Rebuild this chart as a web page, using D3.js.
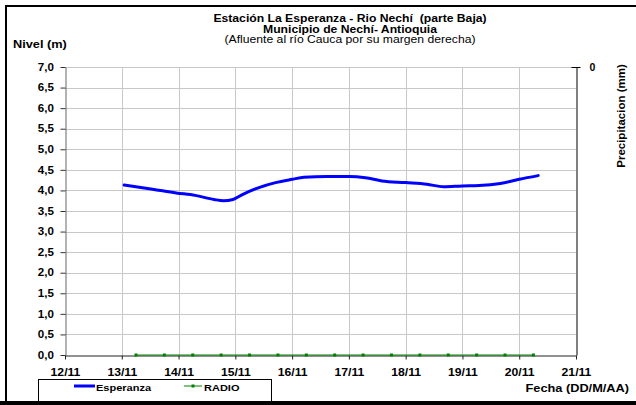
<!DOCTYPE html>
<html>
<head>
<meta charset="utf-8">
<script src="https://cdn.jsdelivr.net/npm/d3@7/dist/d3.min.js"></script>
<style>
  body { margin: 0; background: #fff; }
  svg { display: block; font-family: "Liberation Sans", Arial, sans-serif; }
</style>
</head>
<body>
<svg id="chart" width="636" height="405"></svg>
<script>
// Datos
var titleLines = ["Estación La Esperanza - Rio Nechí \u00a0(parte Baja)", "Municipio de Nechí- Antioquia", "(Afluente al río Cauca por su margen derecha)"];
var dayTicks = ["12/11", "13/11", "14/11", "15/11", "16/11", "17/11", "18/11", "19/11", "20/11", "21/11"];
var levelTicks = [0, 0.5, 1, 1.5, 2, 2.5, 3, 3.5, 4, 4.5, 5, 5.5, 6, 6.5, 7];

var esperanzaTimes = ["13/11 01:00", "13/11 13:00", "13/11 23:00", "14/11 07:00", "14/11 15:00", "14/11 19:00",
  "14/11 23:00", "15/11 03:00", "15/11 10:00", "15/11 17:00", "16/11 00:00", "16/11 05:00", "16/11 15:00",
  "17/11 00:00", "17/11 07:00", "17/11 14:00", "18/11 00:00", "18/11 09:00", "18/11 16:00", "19/11 00:00",
  "19/11 07:00", "19/11 16:00", "20/11 00:00", "20/11 08:00"];
var esperanzaLevels = [4.13, 4.03, 3.94, 3.88, 3.78, 3.75, 3.78, 3.90, 4.07, 4.19, 4.27, 4.32, 4.34,
  4.34, 4.31, 4.23, 4.19, 4.15, 4.09, 4.11, 4.12, 4.17, 4.27, 4.36];

var radioTimes = ["13/11 06:00", "13/11 18:00", "14/11 06:00", "14/11 18:00", "15/11 06:00", "15/11 18:00",
  "16/11 06:00", "16/11 18:00", "17/11 06:00", "17/11 18:00", "18/11 06:00", "18/11 18:00",
  "19/11 06:00", "19/11 18:00", "20/11 06:00"];
var radioValues = [0, 0, 0, 0, 0, 0, 0, 0, 0, 0, 0, 0, 0, 0, 0];

var svg = d3.select("#chart"),
    sx = 1.16,   // el grafico original esta estirado a lo ancho
    parse = d3.timeParse("%d/%m %H:%M"),
    parseDay = d3.timeParse("%d/%m");

var plotLeft = 65, plotRight = 576, plotTop = 67, plotBottom = 355;

var x = d3.scaleTime()
    .domain([parseDay(dayTicks[0]), parseDay(dayTicks[dayTicks.length - 1])])
    .range([plotLeft, plotRight]);
var y = d3.scaleLinear().domain([0, 7]).range([plotBottom, plotTop]);

function stretched(sel, px, py) {
  return sel.attr("transform", "translate(" + px + "," + py + ") scale(" + sx + ",1)");
}

// marco
svg.append("rect").attr("x", 6).attr("y", 6).attr("width", 640).attr("height", 396)
    .attr("fill", "#fff").attr("stroke", "#000").attr("stroke-width", 2);
svg.append("rect").attr("x", 0).attr("y", 401).attr("width", 636).attr("height", 4).attr("fill", "#000");

// titulos
titleLines.forEach(function(t, i) {
  stretched(svg.append("text"), 350, 22 + i * 10.7)
      .attr("text-anchor", "middle")
      .attr("font-size", 10.5)
      .attr("font-weight", i < 2 ? "bold" : "normal")
      .text(t);
});

stretched(svg.append("text"), 13, 48).attr("font-size", 11).attr("font-weight", "bold").text("Nivel (m)");
stretched(svg.append("text"), 629, 392).attr("text-anchor", "end").attr("font-size", 11)
    .attr("font-weight", "bold").text("Fecha (DD/M/AA)");
svg.append("text")
    .attr("transform", "translate(625,116) rotate(-90)")
    .attr("text-anchor", "middle").attr("font-size", 11.5).attr("font-weight", "bold")
    .text("Precipitacion (mm)");

// rejilla
svg.append("g").selectAll("line").data(levelTicks.slice(1)).enter().append("line")
    .attr("x1", plotLeft).attr("x2", plotRight)
    .attr("y1", function(d) { return Math.round(y(d)) + 0.5; })
    .attr("y2", function(d) { return Math.round(y(d)) + 0.5; })
    .attr("stroke", "#c8c8c8");
svg.append("g").selectAll("line").data(dayTicks.slice(1, -1)).enter().append("line")
    .attr("x1", function(d) { return Math.round(x(parseDay(d))) + 0.5; })
    .attr("x2", function(d) { return Math.round(x(parseDay(d))) + 0.5; })
    .attr("y1", plotTop).attr("y2", plotBottom)
    .attr("stroke", "#c8c8c8");

// ejes
var yAxis = svg.append("g").attr("transform", "translate(" + (plotLeft + 0.5) + ",0)")
    .call(d3.axisLeft(y).tickValues(levelTicks).tickSize(5).tickPadding(5).tickSizeOuter(0)
      .tickFormat(function(d) { return d3.format(".1f")(d).replace(".", ","); }));
yAxis.select(".domain").attr("stroke", "#666");
yAxis.selectAll(".tick line").attr("stroke", "#333");
yAxis.selectAll("text").attr("font-size", 10).attr("font-weight", "bold").attr("fill", "#000")
    .attr("font-family", "Liberation Sans, Arial, sans-serif")
    .attr("transform", "scale(" + sx + ",1)");

var xAxis = svg.append("g").attr("transform", "translate(0," + (plotBottom + 0.5) + ")")
    .call(d3.axisBottom(x).tickValues(dayTicks.map(parseDay)).tickSize(4).tickPadding(9)
      .tickFormat(d3.timeFormat("%d/%m")).tickSizeOuter(0));
xAxis.select(".domain").attr("stroke", "#222");
xAxis.selectAll(".tick line").attr("stroke", "#222");
xAxis.selectAll("text").attr("font-size", 10.5).attr("font-weight", "bold").attr("fill", "#000")
    .attr("font-family", "Liberation Sans, Arial, sans-serif")
    .attr("transform", "scale(" + sx + ",1)");

// eje derecho (precipitacion)
var y2 = d3.scaleLinear().domain([0, 1]).range([plotTop, plotBottom]);
var rAxis = svg.append("g").attr("transform", "translate(" + (plotRight + 0.5) + ",0)")
    .call(d3.axisRight(y2).tickValues([0]).tickSize(4).tickPadding(9).tickSizeOuter(0)
      .tickFormat(d3.format("d")));
rAxis.select(".domain").attr("stroke", "#000");
rAxis.select(".tick line").attr("x1", -5).attr("stroke", "#000");
rAxis.selectAll("text").attr("font-size", 10.5).attr("font-weight", "bold").attr("fill", "#000")
    .attr("font-family", "Liberation Sans, Arial, sans-serif");

// series
var esperanza = esperanzaTimes.map(function(t, i) { return { t: parse(t), v: esperanzaLevels[i] }; });
var radio = radioTimes.map(function(t, i) { return { t: parse(t), v: radioValues[i] }; });

var line = d3.line()
    .x(function(d) { return x(d.t); })
    .y(function(d) { return y(d.v); })
    .curve(d3.curveMonotoneX);

svg.append("path").datum(radio).attr("d", line)
    .attr("fill", "none").attr("stroke", "#008000").attr("stroke-width", 1);
svg.append("g").selectAll("rect").data(radio).enter().append("rect")
    .attr("x", function(d) { return x(d.t) - 1.5; })
    .attr("y", function(d) { return y(d.v) - 1.5; })
    .attr("width", 3).attr("height", 3).attr("fill", "#008000");

svg.append("path").datum(esperanza).attr("d", line)
    .attr("fill", "none").attr("stroke", "#0000ff").attr("stroke-width", 3)
    .attr("stroke-linecap", "round");

// leyenda
var legend = svg.append("g");
legend.append("rect").attr("x", 38.5).attr("y", 379.5).attr("width", 233).attr("height", 22)
    .attr("fill", "#fff").attr("stroke", "#000");
legend.append("line").attr("x1", 74).attr("x2", 95).attr("y1", 386).attr("y2", 386)
    .attr("stroke", "#0000ff").attr("stroke-width", 3);
stretched(legend.append("text"), 96, 390.5).attr("font-size", 9.5).attr("font-weight", "bold").text("Esperanza");
legend.append("line").attr("x1", 184).attr("x2", 202).attr("y1", 386).attr("y2", 386)
    .attr("stroke", "#008000").attr("stroke-width", 1);
legend.append("rect").attr("x", 191.5).attr("y", 384.5).attr("width", 3).attr("height", 3).attr("fill", "#008000");
stretched(legend.append("text"), 204, 390.5).attr("font-size", 9.5).attr("font-weight", "bold").text("RADIO");
</script>
</body>
</html>
